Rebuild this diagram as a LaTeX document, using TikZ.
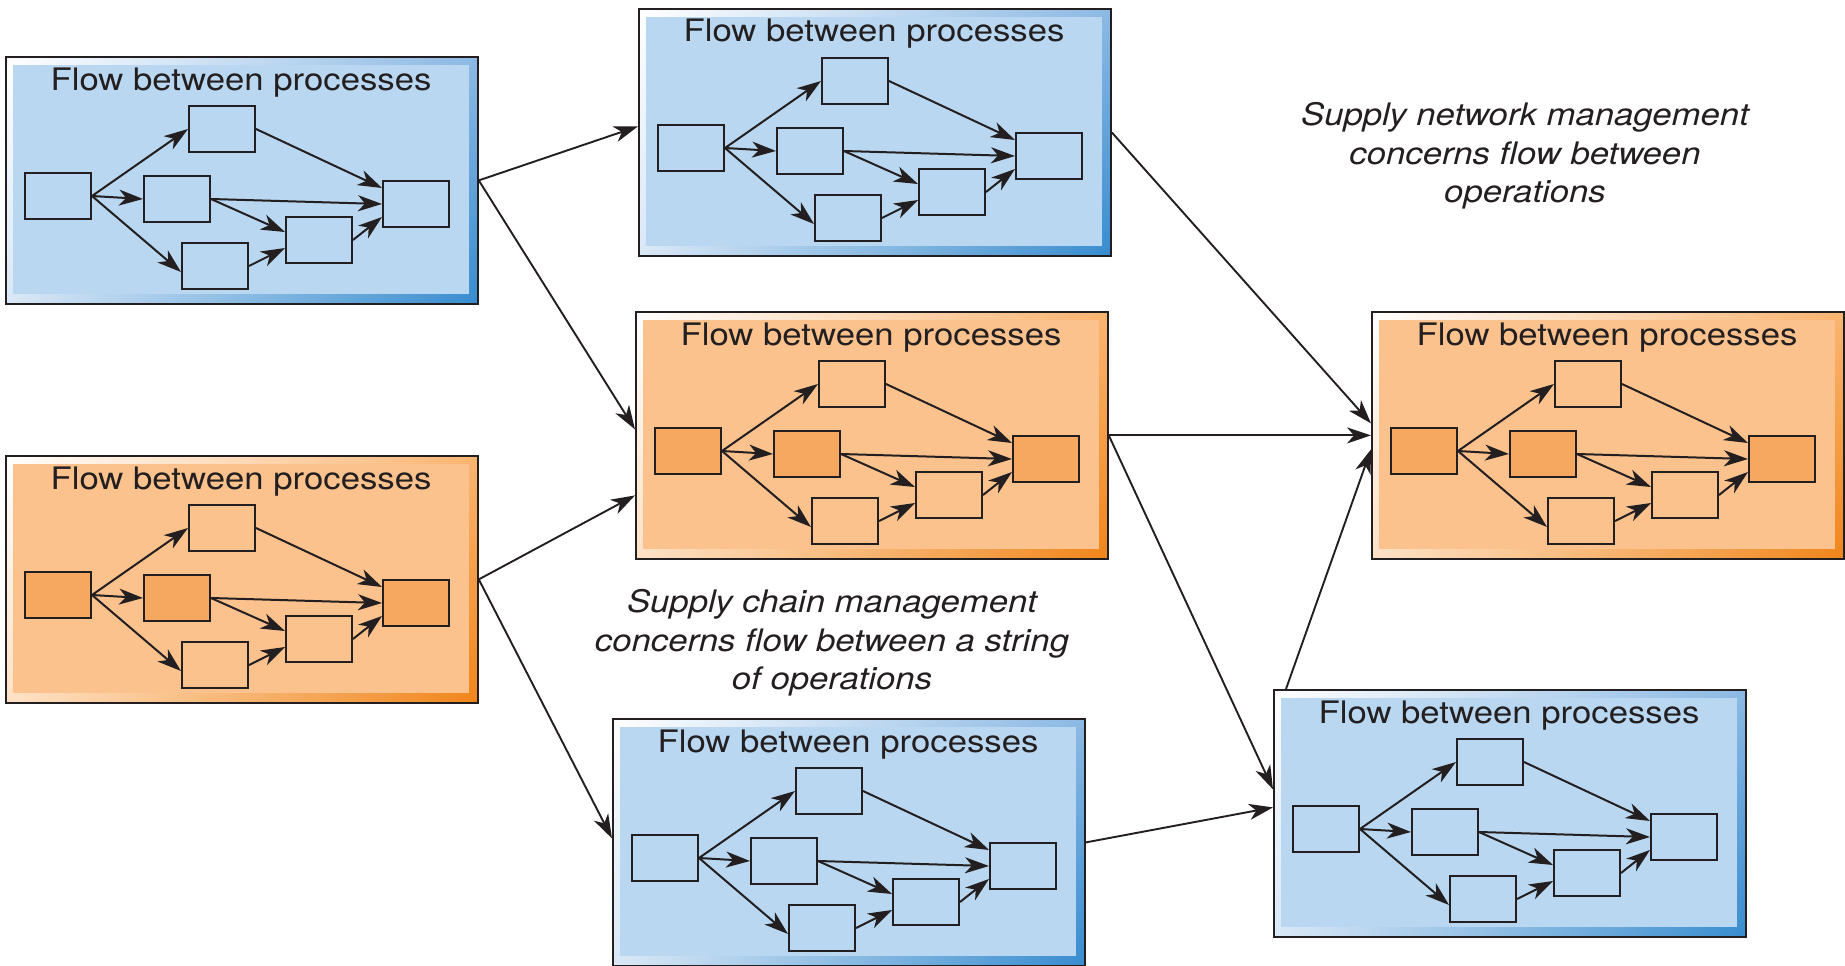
\documentclass[tikz,border=0pt]{standalone}
\usepackage{fontspec}
\newfontfamily\labelfont{TeX Gyre Heros}[FakeStretch=1.12]
\usetikzlibrary{arrows.meta,shadings}

\definecolor{ink}{RGB}{35,31,32}
\definecolor{bluebg}{RGB}{185,215,240}
\definecolor{blueUR}{RGB}{140,185,228}
\definecolor{blueLL}{RGB}{218,232,246}
\definecolor{blueLR}{RGB}{55,140,207}
\definecolor{orangebg}{RGB}{251,194,142}
\definecolor{orangekey}{RGB}{246,167,96}
\definecolor{orangeUR}{RGB}{250,180,112}
\definecolor{orangeLL}{RGB}{254,226,198}
\definecolor{orangeLR}{RGB}{240,133,25}

\tikzset{
  outerbox/.style={anchor=north west, minimum width=472pt, minimum height=247pt,
    inner sep=0pt, draw=ink, line width=1.8pt, shade},
  bevel blue/.style={upper left=white, upper right=blueUR, lower left=blueLL, lower right=blueLR},
  bevel orange/.style={upper left=white, upper right=orangeUR, lower left=orangeLL, lower right=orangeLR},
  blue bg/.style={fill=bluebg},
  orange bg/.style={fill=orangebg},
  blue key/.style={fill=bluebg},
  blue plain/.style={fill=bluebg},
  orange key/.style={fill=orangekey},
  orange plain/.style={fill=orangebg},
  unit/.style={draw=ink, line width=2pt, minimum width=66pt, minimum height=46pt, inner sep=0pt},
  title/.style={anchor=base, inner sep=0pt, text=ink, font=\labelfont\fontsize{31}{36}\selectfont},
  note/.style={align=center, inner sep=0pt, text=ink, font=\labelfont\itshape\fontsize{31}{38.5}\selectfont},
  flowarrow/.style={draw=ink, line width=2pt, -{Stealth[length=24pt, width=16pt, inset=7pt]}},
  link/.style={draw=ink, line width=1.9pt, -{Stealth[length=24pt, width=16pt, inset=7pt]}},
  pics/flow/.style={code={
    \node[outerbox, bevel #1] (-box) at (0,0) {};
    \fill[#1 bg] (8,9) rectangle (464,238);
    \node[title] (-title) at (236,34) {Flow between processes};
    \node[unit, #1 key]   (-1) at (53,140) {};
    \node[unit, #1 plain] (-2) at (217,73) {};
    \node[unit, #1 key]   (-3) at (172,143) {};
    \node[unit, #1 plain] (-4) at (210,210) {};
    \node[unit, #1 plain] (-5) at (314,184) {};
    \node[unit, #1 key]   (-6) at (411,148) {};
    \draw[flowarrow] (-1.east) -- (-2.west);
    \draw[flowarrow] (-1.east) -- (-3.west);
    \draw[flowarrow] (-1.east) -- ([yshift=-6pt]-4.west);
    \draw[flowarrow] (-2.east) -- ([yshift=16pt]-6.west);
    \draw[flowarrow] (-3.east) -- (-6.west);
    \draw[flowarrow] (-3.east) -- ([yshift=8pt]-5.west);
    \draw[flowarrow] (-4.east) -- ([yshift=-8pt]-5.west);
    \draw[flowarrow] (-5.east) -- ([yshift=-13pt]-6.west);
  }}
}

\begin{document}
\begin{tikzpicture}[x=1pt, y=-1pt]
\useasboundingbox[fill=white] (0,0) rectangle (1845,966);

% operations, each a network of processes
\pic (A) at (5,56)    {flow=blue};
\pic (B) at (5,455)   {flow=orange};
\pic (C) at (638,8)   {flow=blue};
\pic (D) at (635,311) {flow=orange};
\pic (E) at (612,718) {flow=blue};
\pic (F) at (1371,311){flow=orange};
\pic (G) at (1273,689){flow=blue};

% flows between operations
\draw[link] (A-box.east) -- ([yshift=6pt]C-box.west);
\draw[link] (A-box.east) -- ([yshift=6pt]D-box.west);
\draw[link] (B-box.east) -- ([yshift=-60pt]D-box.west);
\draw[link] (B-box.east) -- ([yshift=4pt]E-box.west);
\draw[link] (C-box.east) -- ([yshift=12pt]F-box.west);
\draw[link] (D-box.east) -- (F-box.west);
\draw[link] (D-box.east) -- ([yshift=24pt]G-box.west);
\draw[link] (E-box.east) -- ([yshift=6pt]G-box.west);
\draw[link] ([xshift=13pt]G-box.north west) -- ([yshift=-14pt]F-box.west);

% annotations
\node[note] (network) at (1525,156) {Supply network management\\concerns flow between\\operations};
\node[note] (chain) at (832,643) {Supply chain management\\concerns flow between a string\\of operations};
\end{tikzpicture}
\end{document}
